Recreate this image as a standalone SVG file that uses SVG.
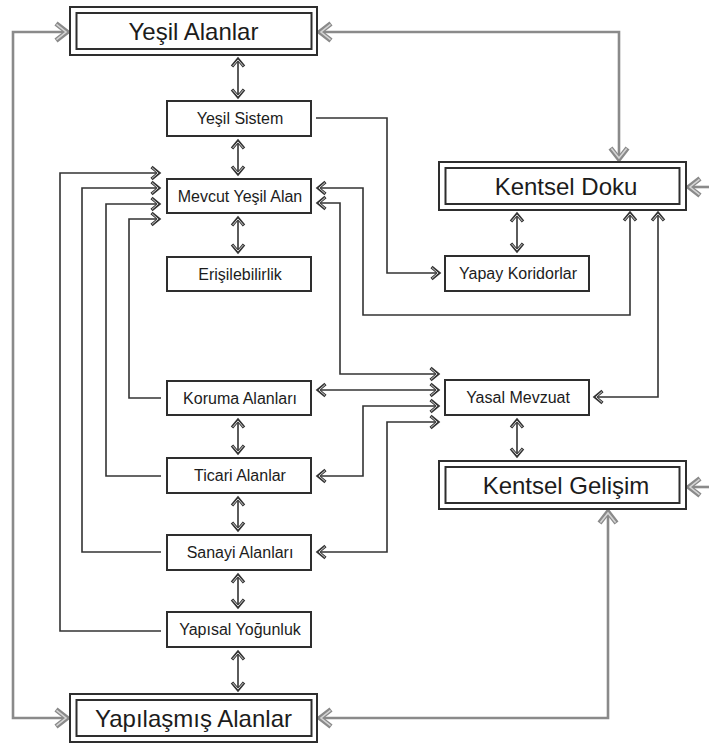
<svg xmlns="http://www.w3.org/2000/svg" width="709" height="743" viewBox="0 0 709 743">
<style>
  .box{fill:#fff;stroke:#2e2e2e;stroke-width:2}
  .t{font-family:"Liberation Sans",Arial,sans-serif;font-size:16px;fill:#1c1c1c;text-anchor:middle}
  .T{font-family:"Liberation Sans",Arial,sans-serif;font-size:24px;fill:#1c1c1c;text-anchor:middle}
  .c{fill:none;stroke:#333;stroke-width:1.6}
  .g{fill:none;stroke:#8a8a8a;stroke-width:2.6}
</style>
<defs>
  <marker id="ab" markerUnits="userSpaceOnUse" markerWidth="24" markerHeight="24" viewBox="-12 -12 24 24" refX="0" refY="0" orient="auto-start-reverse" overflow="visible">
    <path d="M-8.5,-6 L-1.2,0 L-8.5,6" fill="none" stroke="#333" stroke-width="3.2"/>
    <path d="M-8,-5.3 L-1.9,0 L-8,5.3" fill="none" stroke="#e6e6e6" stroke-width="0.9"/>
  </marker>
  <marker id="ag" markerUnits="userSpaceOnUse" markerWidth="36" markerHeight="36" viewBox="-18 -18 36 36" refX="0" refY="0" orient="auto-start-reverse" overflow="visible">
    <path d="M-13,-8.5 L-2,0 L-13,8.5" fill="none" stroke="#8a8a8a" stroke-width="5"/>
    <path d="M-12.5,-7.6 L-3,0 L-12.5,7.6" fill="none" stroke="#d4d4d4" stroke-width="1.6"/>
  </marker>
</defs>
<rect width="709" height="743" fill="#fff"/>

<g id="connectors">
  <!-- gray -->
  <path class="g" d="M69,32 H13 V718 H69" marker-start="url(#ag)" marker-end="url(#ag)"/>
  <path class="g" d="M318,32 H619 V161" marker-start="url(#ag)" marker-end="url(#ag)"/>
  <path class="g" d="M318,718 H608 V510" marker-start="url(#ag)" marker-end="url(#ag)"/>
  <path class="g" d="M709,187 H687" marker-end="url(#ag)"/>
  <path class="g" d="M709,487 H687" marker-end="url(#ag)"/>
  <!-- vertical double arrows -->
  <path class="c" d="M238,58 V98" marker-start="url(#ab)" marker-end="url(#ab)"/>
  <path class="c" d="M238,140 V175" marker-start="url(#ab)" marker-end="url(#ab)"/>
  <path class="c" d="M238,217 V253" marker-start="url(#ab)" marker-end="url(#ab)"/>
  <path class="c" d="M238,419 V454" marker-start="url(#ab)" marker-end="url(#ab)"/>
  <path class="c" d="M238,497 V531" marker-start="url(#ab)" marker-end="url(#ab)"/>
  <path class="c" d="M238,574 V608" marker-start="url(#ab)" marker-end="url(#ab)"/>
  <path class="c" d="M238,651 V691" marker-start="url(#ab)" marker-end="url(#ab)"/>
  <path class="c" d="M517,213 V252" marker-start="url(#ab)" marker-end="url(#ab)"/>
  <path class="c" d="M517,419 V457" marker-start="url(#ab)" marker-end="url(#ab)"/>
  <!-- routed -->
  <path class="c" d="M316,118 H387 V273 H440" marker-end="url(#ab)"/>
  <path class="c" d="M161,631 H60 V173 H160" marker-end="url(#ab)"/>
  <path class="c" d="M161,552 H82 V188 H160" marker-end="url(#ab)"/>
  <path class="c" d="M161,476 H106 V204 H160" marker-end="url(#ab)"/>
  <path class="c" d="M161,398 H129 V219 H160" marker-end="url(#ab)"/>
  <path class="c" d="M317,188 H363 V315 H630 V212" marker-start="url(#ab)" marker-end="url(#ab)"/>
  <path class="c" d="M317,203 H340 V374 H439" marker-start="url(#ab)" marker-end="url(#ab)"/>
  <path class="c" d="M317,390 H439" marker-start="url(#ab)" marker-end="url(#ab)"/>
  <path class="c" d="M317,476 H363 V406 H439" marker-start="url(#ab)" marker-end="url(#ab)"/>
  <path class="c" d="M317,552 H387 V422 H439" marker-start="url(#ab)" marker-end="url(#ab)"/>
  <path class="c" d="M658,212 V397 H594" marker-start="url(#ab)" marker-end="url(#ab)"/>
</g>

<g id="yesil-alanlar">
  <rect class="box" x="70" y="7" width="247" height="48"/>
  <rect class="box" x="76.5" y="13" width="235" height="36"/>
  <text class="T" x="193.5" y="39.5">Yeşil Alanlar</text>
</g>
<g id="kentsel-doku">
  <rect class="box" x="439" y="162" width="247" height="48"/>
  <rect class="box" x="445.5" y="168" width="234" height="36"/>
  <text class="T" x="566" y="194.5">Kentsel Doku</text>
</g>
<g id="kentsel-gelisim">
  <rect class="box" x="439" y="461" width="247" height="48"/>
  <rect class="box" x="445.5" y="467" width="234" height="36"/>
  <text class="T" x="566" y="493.5">Kentsel Gelişim</text>
</g>
<g id="yapilasmis-alanlar">
  <rect class="box" x="70" y="694" width="247" height="48"/>
  <rect class="box" x="76.5" y="700" width="235" height="36"/>
  <text class="T" x="193.5" y="726.5">Yapılaşmış Alanlar</text>
</g>

<g id="yesil-sistem">
  <rect class="box" x="167" y="101" width="144" height="35"/>
  <text class="t" x="240" y="124">Yeşil Sistem</text>
</g>
<g id="mevcut-yesil-alan">
  <rect class="box" x="167" y="179" width="144" height="34"/>
  <text class="t" x="240" y="201.5">Mevcut Yeşil Alan</text>
</g>
<g id="erisilebilirlik">
  <rect class="box" x="167" y="257" width="144" height="34"/>
  <text class="t" x="240" y="279.5">Erişilebilirlik</text>
</g>
<g id="yapay-koridorlar">
  <rect class="box" x="445" y="256" width="144" height="35"/>
  <text class="t" x="518" y="279">Yapay Koridorlar</text>
</g>
<g id="koruma-alanlari">
  <rect class="box" x="167" y="381" width="144" height="34"/>
  <text class="t" x="240" y="403.5">Koruma Alanları</text>
</g>
<g id="yasal-mevzuat">
  <rect class="box" x="445" y="380" width="144" height="35"/>
  <text class="t" x="518" y="403">Yasal Mevzuat</text>
</g>
<g id="ticari-alanlar">
  <rect class="box" x="167" y="458" width="144" height="35"/>
  <text class="t" x="240" y="481">Ticari Alanlar</text>
</g>
<g id="sanayi-alanlari">
  <rect class="box" x="167" y="535" width="144" height="35"/>
  <text class="t" x="240" y="558">Sanayi Alanları</text>
</g>
<g id="yapisal-yogunluk">
  <rect class="box" x="167" y="612" width="144" height="35"/>
  <text class="t" x="240" y="635">Yapısal Yoğunluk</text>
</g>
</svg>
